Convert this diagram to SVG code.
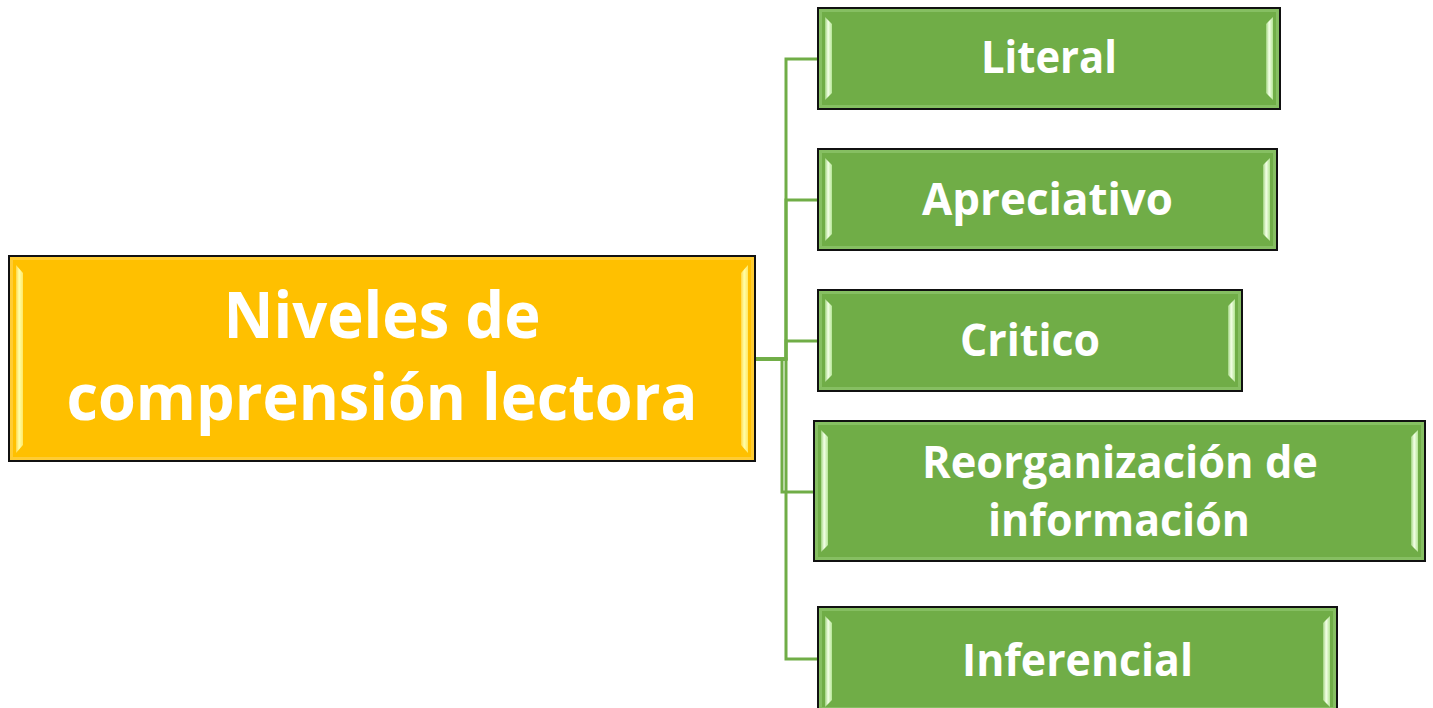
<svg xmlns="http://www.w3.org/2000/svg" width="1433" height="708" viewBox="0 0 1433 708">
  <defs>
    <linearGradient id="hlG" x1="0" y1="0" x2="1" y2="0">
      <stop offset="0" stop-color="#9FD37E"/>
      <stop offset="0.45" stop-color="#F4FFE8"/>
      <stop offset="1" stop-color="#B5E596"/>
    </linearGradient>
    <linearGradient id="hlY" x1="0" y1="0" x2="1" y2="0">
      <stop offset="0" stop-color="#FFD84A"/>
      <stop offset="0.45" stop-color="#FFFFA8"/>
      <stop offset="1" stop-color="#FFE866"/>
    </linearGradient>
  </defs>
  <style>
    .gbox { fill: #70AD47; stroke: #111; stroke-width: 2; }
    .ybox { fill: #FFC000; stroke: #111; stroke-width: 2; }
    .ginner { fill: none; stroke: #86BF62; stroke-width: 3; }
    .yinner { fill: none; stroke: #FFCC33; stroke-width: 3; }
    .hg { fill: url(#hlG); }
    .hy { fill: url(#hlY); }
    .lbl { fill: #FFFFFF; font-family: "Open Sans", "Noto Sans", "Liberation Sans", sans-serif; font-weight: bold; text-anchor: middle; }
    .conn { fill: none; stroke: #70AD47; stroke-width: 3; }
  </style>

  <g id="connectors">
    <path class="conn" d="M755,359 H786 V59 H818"/>
    <path class="conn" d="M755,359 H786 V200 H818"/>
    <path class="conn" d="M755,359 H786 V341 H818"/>
    <path class="conn" d="M755,359 H782 V492 H814"/>
    <path class="conn" d="M755,359 H786 V659 H818"/>
    <path class="conn" d="M755,359 H786" stroke-width="4"/>
  </g>

  <g id="main">
    <rect class="ybox" x="9" y="256" width="746" height="205"/>
    <rect class="yinner" x="11.5" y="258.5" width="741" height="200"/>
    <path class="hy" d="M16,265 L23,273 L23,445 L16,453 Z"/>
    <path class="hy" d="M748,265 L741,273 L741,445 L748,453 Z"/>
    <text class="lbl" x="382" y="338" font-size="64" textLength="317" lengthAdjust="spacingAndGlyphs">Niveles de</text>
    <text class="lbl" x="382" y="420" font-size="64" textLength="631" lengthAdjust="spacingAndGlyphs">comprensión lectora</text>
  </g>

  <g id="literal">
    <rect class="gbox" x="818" y="8" width="462" height="101"/>
    <rect class="ginner" x="820.5" y="10.5" width="457" height="96"/>
    <path class="hg" d="M825,17 L832,24 L832,93 L825,100 Z"/>
    <path class="hg" d="M1273,17 L1266,24 L1266,93 L1273,100 Z"/>
    <text class="lbl" x="1049" y="73" font-size="45" textLength="136" lengthAdjust="spacingAndGlyphs">Literal</text>
  </g>

  <g id="apreciativo">
    <rect class="gbox" x="818" y="149" width="459" height="101"/>
    <rect class="ginner" x="820.5" y="151.5" width="454" height="96"/>
    <path class="hg" d="M825,158 L832,165 L832,234 L825,241 Z"/>
    <path class="hg" d="M1270,158 L1263,165 L1263,234 L1270,241 Z"/>
    <text class="lbl" x="1047.5" y="215" font-size="45" textLength="251" lengthAdjust="spacingAndGlyphs">Apreciativo</text>
  </g>

  <g id="critico">
    <rect class="gbox" x="818" y="290" width="424" height="101"/>
    <rect class="ginner" x="820.5" y="292.5" width="419" height="96"/>
    <path class="hg" d="M825,299 L832,306 L832,375 L825,382 Z"/>
    <path class="hg" d="M1235,299 L1228,306 L1228,375 L1235,382 Z"/>
    <text class="lbl" x="1030" y="356" font-size="45" textLength="140" lengthAdjust="spacingAndGlyphs">Critico</text>
  </g>

  <g id="reorganizacion">
    <rect class="gbox" x="814" y="421" width="611" height="140"/>
    <rect class="ginner" x="816.5" y="423.5" width="606" height="135"/>
    <path class="hg" d="M821,430 L828,437 L828,545 L821,552 Z"/>
    <path class="hg" d="M1418,430 L1411,437 L1411,545 L1418,552 Z"/>
    <text class="lbl" x="1120" y="478" font-size="45" textLength="396" lengthAdjust="spacingAndGlyphs">Reorganización de</text>
    <text class="lbl" x="1119" y="536" font-size="45" textLength="262" lengthAdjust="spacingAndGlyphs">información</text>
  </g>

  <g id="inferencial">
    <rect class="gbox" x="818" y="607" width="519" height="104"/>
    <rect class="ginner" x="820.5" y="609.5" width="514" height="99"/>
    <path class="hg" d="M825,616 L832,623 L832,700 L825,707 Z"/>
    <path class="hg" d="M1330,616 L1323,623 L1323,700 L1330,707 Z"/>
    <text class="lbl" x="1077.5" y="676" font-size="45" textLength="231" lengthAdjust="spacingAndGlyphs">Inferencial</text>
  </g>
</svg>
